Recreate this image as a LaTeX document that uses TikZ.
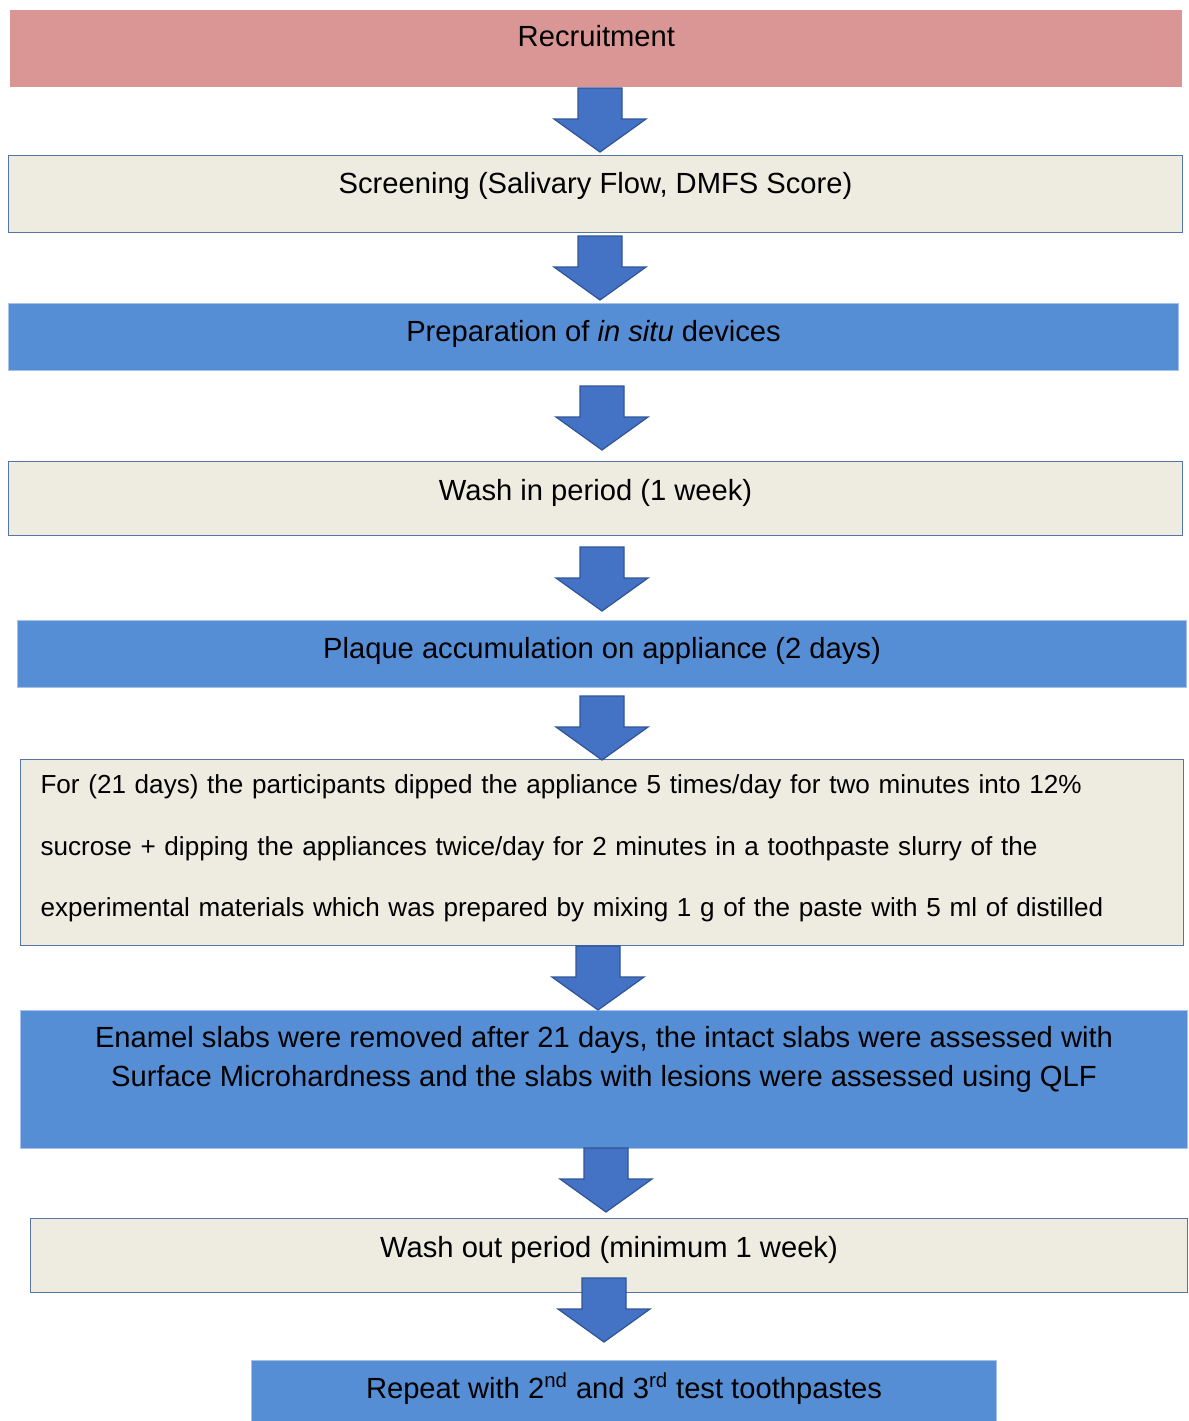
\documentclass[tikz,border=0pt]{standalone}
\usepackage{fontspec}
\setmainfont{Liberation Sans}
\usetikzlibrary{positioning}
\definecolor{recpink}{HTML}{DA9694}
\definecolor{stepbeige}{HTML}{EEECE1}
\definecolor{beigeline}{HTML}{5475A6}
\definecolor{stepblue}{HTML}{558ED5}
\definecolor{blueline}{HTML}{A7C2E8}
\definecolor{arrowblue}{HTML}{4472C4}
\definecolor{arrowline}{HTML}{2F5597}
\newdimen\px \px=0.02cm
\tikzset{every node/.style={font=\fontsize{16.6}{20}\selectfont}}
\tikzset{Sbox/.style={rectangle,anchor=north west,inner xsep=0pt,inner ysep=0pt}}
\tikzset{Spink/.style={Sbox,fill=recpink,draw=none}}
\tikzset{Sbeige/.style={Sbox,fill=stepbeige,draw=beigeline,line width=0.6pt}}
\tikzset{Sblue/.style={Sbox,fill=stepblue,draw=blueline,line width=0.6pt}}
\tikzset{Sarrow/.style={fill=arrowblue,draw=arrowline,line width=0.7pt,line join=miter}}
% block arrow hanging down from a named coordinate
\newcommand{\Darrow}[1]{\draw[Sarrow] (#1) ++(-22,0) -- ++(0,31) -- ++(-24,0) -- ++(46,33) -- ++(46,-33) -- ++(-24,0) -- ++(0,-31) -- cycle;}

\begin{document}
\begin{tikzpicture}[x=0.02cm,y=-0.02cm]
\useasboundingbox (0,0) rectangle (1189,1421);
% \draw[help lines,step=100] (0,0) grid (1189,1421);
\node (recruit) [Spink,minimum width=1172\px,text height=36.5\px,text depth=40.5\px] at (10,10) {Recruitment};
\node (screen) [Sbeige,minimum width=1174\px,text height=37.5\px,text depth=39.5\px] at (8,155) {Screening (Salivary Flow, DMFS Score)};
\node (prep) [Sblue,minimum width=1170\px,text height=37.5\px,text depth=29.5\px] at (8,303) {Preparation of \textit{in situ} devices};
\node (washin) [Sbeige,minimum width=1174\px,text height=38.5\px,text depth=35.5\px] at (8,461) {Wash in period (1 week)};
\node (plaque) [Sblue,minimum width=1169\px,text height=37.5\px,text depth=29.5\px] at (17,620) {Plaque accumulation on appliance (2 days)};
\node (dipping) [Sbeige,minimum width=1163\px,minimum height=186\px,inner xsep=20\px,text width=1123\px,align=left,font=\fontsize{14.85}{35}\selectfont] at (20,759) {For (21 days) the participants dipped the appliance 5 times/day for two minutes into 12\%\\sucrose + dipping the appliances twice/day for 2 minutes in a toothpaste slurry of the\\experimental materials which was prepared by mixing 1 g of the paste with 5 ml of distilled\\[-48\px]\mbox{}};
\node (enamel) [Sblue,minimum width=1167\px,minimum height=138\px,align=center,font=\fontsize{16.6}{22.2}\selectfont] at (20,1010) {Enamel slabs were removed after 21 days, the intact slabs were assessed with\\Surface Microhardness and the slabs with lesions were assessed using QLF\\[8\px]\mbox{}};
\node (washout) [Sbeige,minimum width=1157\px,text height=38.5\px,text depth=35.5\px] at (30,1218) {Wash out period (minimum 1 week)};
\node (repeat) [Sblue,minimum width=745\px,text height=37.5\px,text depth=27.5\px] at (251,1360) {Repeat with 2\textsuperscript{nd} and 3\textsuperscript{rd} test toothpastes};
%
\coordinate (a1) at (600,88);
\coordinate (a2) at (600,236);
\coordinate (a3) at (602,386);
\coordinate (a4) at (602,547);
\coordinate (a5) at (602,696);
\coordinate (a6) at (598,946);
\coordinate (a7) at (606,1148);
\coordinate (a8) at (604,1278);
\Darrow{a1}
\Darrow{a2}
\Darrow{a3}
\Darrow{a4}
\Darrow{a5}
\Darrow{a6}
\Darrow{a7}
\Darrow{a8}
\end{tikzpicture}
\end{document}
